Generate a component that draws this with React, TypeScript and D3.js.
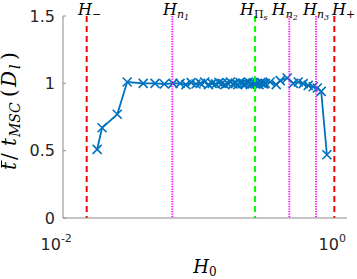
import React, { useEffect, useRef, useState } from "react";
import * as d3 from "d3";

// H0 values along the x axis (log scale)
const h0 = [
  0.0198, 0.0215, 0.0277, 0.0327, 0.0427, 0.052, 0.0607, 0.0702,
  0.079, 0.087, 0.095, 0.103, 0.111, 0.119, 0.127, 0.135, 0.143, 0.151,
  0.159, 0.167, 0.175, 0.183, 0.191, 0.199, 0.207, 0.215, 0.223, 0.231,
  0.239, 0.247, 0.255, 0.263, 0.271, 0.279, 0.287, 0.295, 0.303, 0.311,
  0.319, 0.327,
  0.355, 0.393, 0.42, 0.472, 0.522, 0.567, 0.616, 0.67, 0.728, 0.78,
  0.832, 0.915,
];

// t / t_MSC ratio for each H0
const ratio = [
  0.51, 0.67, 0.77, 1.01, 1.0, 1.0, 0.995, 1.0,
  1.0, 0.99, 1.005, 0.995, 1.0, 1.01, 0.99, 1.0, 0.995, 1.005,
  1.0, 0.99, 1.0, 1.01, 0.995, 1.0, 0.99, 1.005, 1.0, 0.995,
  1.0, 1.01, 0.99, 1.0, 1.005, 0.995, 1.0, 0.99, 1.005, 1.0,
  0.995, 1.0,
  1.01, 0.99, 1.02, 1.04, 1.0, 1.01, 0.998, 0.985, 0.975, 0.965,
  0.94, 0.47,
];

// reference lines
const refH = [0.01663, 0.0694, 0.276, 0.489, 0.763, 1.036];
const refSub = ["−", "n", "Π", "n", "n", "+"];
const refSubSub = ["", "1", "s", "2", "3", ""];
const refKind = ["bound", "node", "pi", "node", "node", "bound"];

const xTicks = [0.01, 1];
const xTickExp = ["-2", "0"];
const yTicks = [0, 0.5, 1, 1.5];

const W = 357;
const H = 279;

const kindStyle: Record<string, { stroke: string; dash: string; width: number }> = {
  bound: { stroke: "#ff0000", dash: "6,4", width: 2 },
  pi: { stroke: "#00ff00", dash: "6,4", width: 2 },
  node: { stroke: "#ff00ff", dash: "1.3,1.2", width: 1.8 },
};

// label nudges so the text does not overlap
const labelDx = [-8.7, -9.3, -15, -17.6, -13, -2.3];

export default function App() {
  const x = d3.scaleLog().domain([0.0112, 1.28]).range([63, 347]);
  const y = d3.scaleLinear().domain([0, 1.5]).range([218, 16]);

  const pts = h0.map((h, i) => [x(h), y(ratio[i])] as [number, number]);
  const line = d3.line()(pts) || "";
  const axisColor = "#8a8a8a";
  const textColor = "#262626";
  const serif = "DejaVu Serif";
  const sans = "DejaVu Sans";

  // bars over t and D in the y label, measured after layout
  const ylabRef = useRef<SVGTextElement>(null);
  const [bars, setBars] = useState<{ x1: number; x2: number; y: number }[]>([]);
  useEffect(() => {
    const el = ylabRef.current;
    if (!el) return;
    const out: { x1: number; x2: number; y: number }[] = [];
    // char 0 = t, char 7 = D
    [
      [0, -14.5],
      [7, -17.5],
    ].forEach(([idx, by]) => {
      try {
        const b = el.getExtentOfChar(idx);
        out.push({ x1: b.x + 2.5, x2: b.x + b.width + 1.5, y: by });
      } catch (e) {
        // ignore
      }
    });
    setBars(out);
  }, []);

  return (
    <svg
      width={W}
      height={H}
      style={{ position: "absolute", left: 0, top: 0, background: "#fff" }}
    >
      {/* data */}
      <path d={line} fill="none" stroke="#0072bd" strokeWidth={1.8} />
      {pts.map(([px, py], i) => (
        <path
          key={i}
          d={`M${px - 4.5},${py - 4.5}L${px + 4.5},${py + 4.5}M${px - 4.5},${py + 4.5}L${px + 4.5},${py - 4.5}`}
          stroke="#0072bd"
          strokeWidth={1.6}
          fill="none"
        />
      ))}

      {/* reference lines */}
      {refH.map((h, i) => {
        const s = kindStyle[refKind[i]];
        return (
          <line
            key={i}
            x1={x(h)}
            x2={x(h)}
            y1={y(1.5)}
            y2={y(0)}
            stroke={s.stroke}
            strokeWidth={s.width}
            strokeDasharray={s.dash}
          />
        );
      })}
      {refH.map((h, i) => (
        <text
          key={i}
          x={x(h) + labelDx[i]}
          y={15}
          fontFamily={serif}
          fontStyle="italic"
          fontSize={16}
          fill="#000"
        >
          H
          <tspan dy={3} fontSize={11} fontStyle={refSub[i] === "Π" || refSub[i] === "−" || refSub[i] === "+" ? "normal" : "italic"}>
            {refSub[i]}
          </tspan>
          {refSubSub[i] && (
            <tspan dy={2} fontSize={8}>
              {refSubSub[i]}
            </tspan>
          )}
        </text>
      ))}

      {/* axes */}
      <line x1={63} x2={347} y1={218} y2={218} stroke={axisColor} strokeWidth={1} />
      <line x1={63} x2={63} y1={16} y2={218} stroke={axisColor} strokeWidth={1} />
      {yTicks.map((t) => (
        <g key={t}>
          <line x1={63} x2={66} y1={y(t)} y2={y(t)} stroke={axisColor} />
          <text
            x={55}
            y={y(t)}
            dy="0.36em"
            textAnchor="end"
            fontFamily={sans}
            fontSize={16}
            fill={textColor}
          >
            {t}
          </text>
        </g>
      ))}
      {xTicks.map((t, i) => (
        <text
          key={t}
          x={x(t)}
          y={250}
          textAnchor="middle"
          fontFamily={sans}
          fontSize={16}
          fill={textColor}
        >
          10
          <tspan dy={-8} fontSize={11}>
            {xTickExp[i]}
          </tspan>
        </text>
      ))}

      {/* axis labels */}
      <text
        x={205}
        y={273}
        textAnchor="middle"
        fontFamily={serif}
        fontStyle="italic"
        fontSize={18}
        fill="#000"
      >
        H
        <tspan dy={3} fontSize={12} fontStyle="normal">
          0
        </tspan>
      </text>
      <g transform="translate(16,170) rotate(-90)">
        <text
          ref={ylabRef}
          x={0}
          y={0}
          fontFamily={serif}
          fontStyle="italic"
          fontSize={20}
          fill="#000"
        >
          t
          <tspan x={10} fontStyle="normal">
            /
          </tspan>
          <tspan x={24}>t</tspan>
          <tspan x={33} dy={4} fontSize={14}>
            MSC
          </tspan>
          <tspan x={73} dy={-4} fontStyle="normal">
            (
          </tspan>
          <tspan x={83}>D</tspan>
          <tspan x={101} dy={4} fontSize={14}>
            l
          </tspan>
          <tspan x={110} dy={-4} fontStyle="normal">
            )
          </tspan>
        </text>
        {bars.map((b, i) => (
          <line key={i} x1={b.x1} x2={b.x2} y1={b.y} y2={b.y} stroke="#000" strokeWidth={1} />
        ))}
      </g>
    </svg>
  );
}
